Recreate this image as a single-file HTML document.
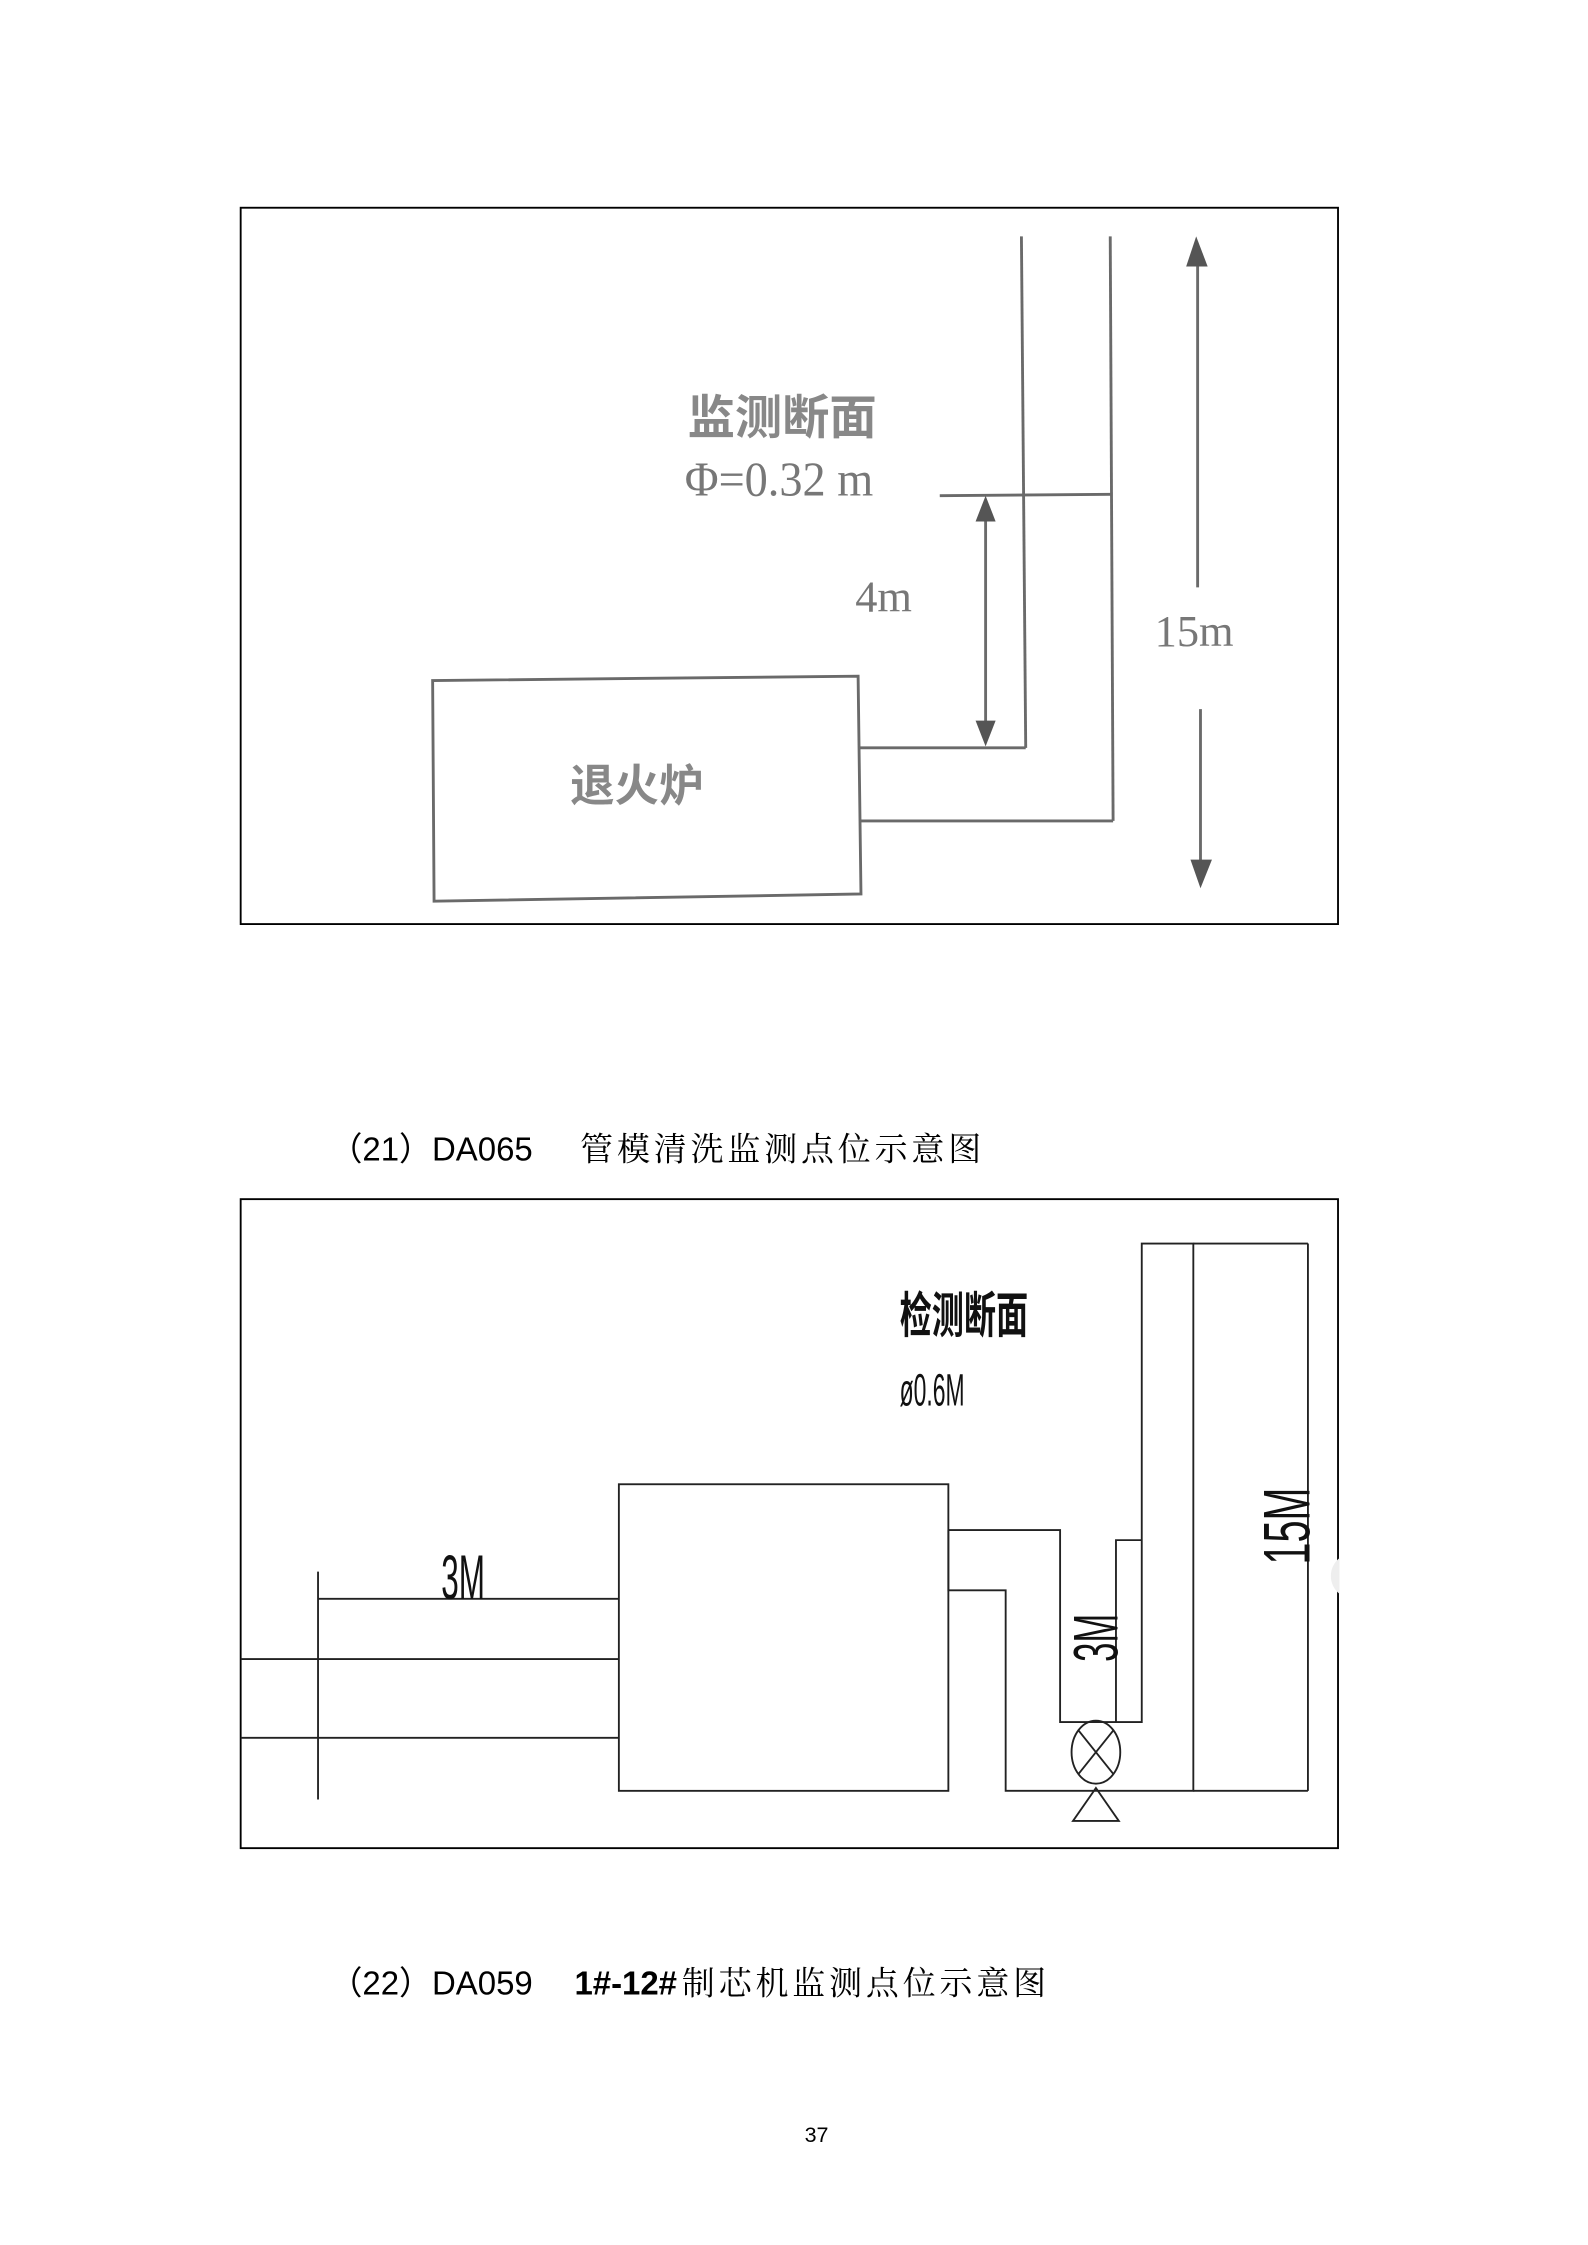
<!DOCTYPE html>
<html><head><meta charset="utf-8"><style>
html,body{margin:0;padding:0;background:#fff;}
svg{display:block;}
</style></head><body>
<svg width="1588" height="2245" viewBox="0 0 1108.5 1567" preserveAspectRatio="none" xmlns="http://www.w3.org/2000/svg">
<rect width="1108.5" height="1567" fill="#fff"/>
<!-- Top diagram -->
<rect x="168" y="145" width="766" height="500" fill="none" stroke="#000" stroke-width="1.3"/>
<g stroke="#6a6a6a" stroke-width="2" fill="none">
<line x1="713" y1="165" x2="716" y2="522"/>
<line x1="775" y1="165" x2="777" y2="573"/>
<line x1="600" y1="522" x2="716" y2="522"/>
<line x1="600" y1="573" x2="777" y2="573"/>
<polygon points="302,475 599,472 601,624 303,629"/>
<line x1="656" y1="346" x2="776" y2="345"/>
<line x1="688" y1="360" x2="688" y2="505"/>
<line x1="836" y1="182" x2="836" y2="410"/>
<line x1="838" y1="495" x2="838" y2="605"/>
</g>
<g fill="#555">
<polygon points="688,346 681,364 695,364"/>
<polygon points="688,521 681,503 695,503"/>
<polygon points="835,165 828,186 843,186"/>
<polygon points="838,620 831,600 846,600"/>
</g>
<g fill="#777" font-family="Liberation Serif, 'Noto Serif CJK SC', serif">
<text x="480" y="303" font-size="33" font-family="'Noto Sans CJK SC', sans-serif" font-weight="bold" fill="#888" transform="translate(480,0) scale(1,1) translate(-480,0)">监测断面</text>
<text x="478" y="346" font-size="34" transform="translate(478,0) scale(0.95,1) translate(-478,0)">Φ=0.32 m</text>
<text x="597" y="427" font-size="31">4m</text>
<text x="806" y="451" font-size="31">15m</text>
<text x="398" y="559" font-size="31" font-family="'Noto Sans CJK SC', sans-serif" font-weight="bold" fill="#888">退火炉</text>
</g>
<!-- Caption 21 -->
<text x="230" y="810" font-size="23" font-family="Liberation Sans, 'Noto Sans CJK SC', sans-serif" fill="#000">（21）DA065　<tspan x="405" font-family="'Noto Serif CJK SC', serif" letter-spacing="2.7">管模清洗监测点位示意图</tspan></text>
<!-- Bottom diagram -->
<rect x="168" y="837" width="766" height="453" fill="none" stroke="#000" stroke-width="1.3"/>
<g stroke="#222" stroke-width="1.3" fill="none">
<line x1="222" y1="1097" x2="222" y2="1256"/>
<line x1="222" y1="1116" x2="432" y2="1116"/>
<line x1="168" y1="1158" x2="432" y2="1158"/>
<line x1="168" y1="1213" x2="432" y2="1213"/>
<rect x="432" y="1036" width="230" height="214"/>
<polyline points="662,1068 740,1068 740,1202 797,1202 797,868 833,868 833,1250 702,1250 702,1110 662,1110 662,1068"/>
<polyline points="779,1202 779,1075 797,1075"/>
<line x1="833" y1="868" x2="913" y2="868"/>
<line x1="833" y1="1250" x2="913" y2="1250"/>
<line x1="913" y1="868" x2="913" y2="1250"/>
<ellipse cx="765" cy="1223" rx="17" ry="22"/>
<line x1="753" y1="1208" x2="777" y2="1238"/>
<line x1="777" y1="1208" x2="753" y2="1238"/>
<polygon points="765,1248 749,1271 781,1271"/>
</g>
<g font-family="Liberation Sans Narrow, Liberation Sans, sans-serif" fill="#111">
<text x="308" y="1116" font-size="44" transform="translate(308,0) scale(0.5,1) translate(-308,0)">3M</text>
<text font-size="44" transform="translate(780,1160) rotate(-90) scale(0.55,1)">3M</text>
<text font-size="46" transform="translate(914,1092) rotate(-90) scale(0.6,1)">15M</text>
<text x="628" y="930" font-size="34" font-family="'Noto Sans CJK SC', sans-serif" font-weight="bold" transform="translate(628,0) scale(0.66,1) translate(-628,0)">检测断面</text>
<text x="628" y="981" font-size="32" transform="translate(628,0) scale(0.5,1) translate(-628,0)">ø0.6M</text>
</g>
<circle cx="945" cy="1100" r="16" fill="#eee"/>
<rect x="935" y="1080" width="30" height="40" fill="#fff"/>
<!-- Caption 22 -->
<text x="230" y="1392" font-size="23" font-family="Liberation Sans, 'Noto Sans CJK SC', sans-serif" fill="#000">（22）DA059　<tspan x="401" font-weight="bold">1#-12#</tspan><tspan x="476" font-family="'Noto Serif CJK SC', serif" letter-spacing="2.7">制芯机监测点位示意图</tspan></text>
<text x="570" y="1495" font-size="15" text-anchor="middle" font-family="Liberation Sans, sans-serif">37</text>
</svg>
</body></html>
